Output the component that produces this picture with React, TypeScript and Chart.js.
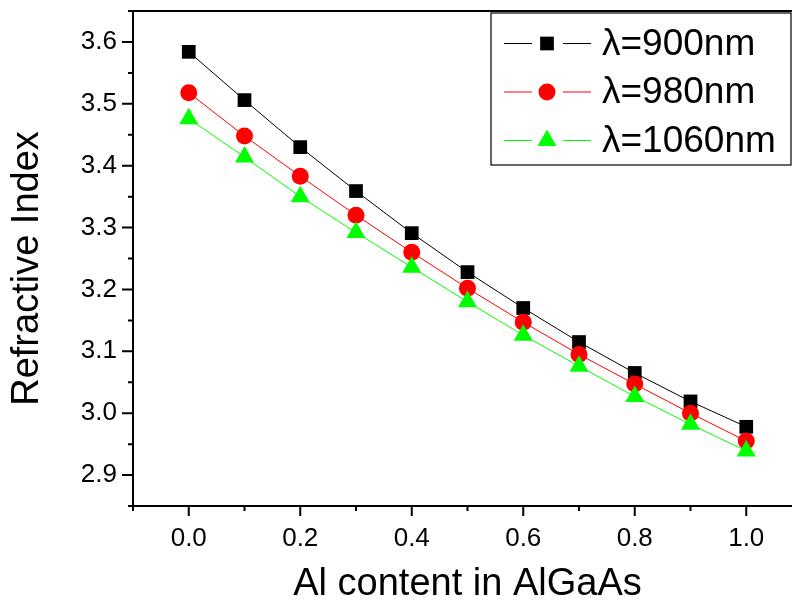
import React, { useEffect, useRef } from 'react';
import { Chart, registerables } from 'chart.js';

Chart.register(...registerables);

const alContent = [0.0, 0.1, 0.2, 0.3, 0.4, 0.5, 0.6, 0.7, 0.8, 0.9, 1.0];
const n900 = [3.584, 3.506, 3.430, 3.359, 3.291, 3.228, 3.170, 3.115, 3.065, 3.019, 2.978];
const n980 = [3.518, 3.448, 3.383, 3.320, 3.260, 3.202, 3.147, 3.095, 3.047, 3.000, 2.955];
const n1060 = [3.476, 3.414, 3.350, 3.292, 3.236, 3.180, 3.126, 3.076, 3.027, 2.982, 2.939];
const seriesLabels = ['λ=900nm', 'λ=980nm', 'λ=1060nm'];
const yTitle = 'Refractive Index';
const xTitle = 'Al content in AlGaAs';

const xMajorTicks = [0.0, 0.2, 0.4, 0.6, 0.8, 1.0];
const xMinorTicks = [-0.1, 0.1, 0.3, 0.5, 0.7, 0.9, 1.1];
const yMajorTicks = [2.9, 3.0, 3.1, 3.2, 3.3, 3.4, 3.5, 3.6];
const yMinorTicks = [2.85, 2.95, 3.05, 3.15, 3.25, 3.35, 3.45, 3.55, 3.65];

const FONT = "'Liberation Sans', Arial, Helvetica, sans-serif";

function drawMarker(ctx: CanvasRenderingContext2D, style: string, x: number, y: number, r: number, color: string) {
  ctx.save();
  ctx.fillStyle = color;
  ctx.beginPath();
  if (style === 'rect') {
    const s = r * Math.SQRT1_2;
    ctx.rect(x - s, y - s, 2 * s, 2 * s);
  } else if (style === 'circle') {
    ctx.arc(x, y, r, 0, Math.PI * 2);
  } else {
    const a = (2 * Math.PI) / 3;
    ctx.moveTo(x, y - r);
    ctx.lineTo(x + Math.sin(a) * r, y - Math.cos(a) * r);
    ctx.lineTo(x + Math.sin(2 * a) * r, y - Math.cos(2 * a) * r);
    ctx.closePath();
  }
  ctx.fill();
  ctx.restore();
}

const framePlugin = {
  id: 'frameTicks',
  afterDraw(chart: any) {
    const { ctx, chartArea } = chart;
    const xs = chart.scales.x;
    const ys = chart.scales.y;
    ctx.save();
    ctx.strokeStyle = '#000';
    ctx.lineWidth = 2;
    ctx.strokeRect(chartArea.left, chartArea.top, chartArea.right - chartArea.left, chartArea.bottom - chartArea.top);
    ctx.beginPath();
    xMajorTicks.forEach((v) => {
      const p = xs.getPixelForValue(v);
      ctx.moveTo(p, chartArea.bottom);
      ctx.lineTo(p, chartArea.bottom + 10);
    });
    xMinorTicks.forEach((v) => {
      const p = xs.getPixelForValue(v);
      ctx.moveTo(p, chartArea.bottom);
      ctx.lineTo(p, chartArea.bottom + 5);
    });
    yMajorTicks.forEach((v) => {
      const p = ys.getPixelForValue(v);
      ctx.moveTo(chartArea.left, p);
      ctx.lineTo(chartArea.left - 11, p);
    });
    yMinorTicks.forEach((v) => {
      const p = ys.getPixelForValue(v);
      ctx.moveTo(chartArea.left, p);
      ctx.lineTo(chartArea.left - 5, p);
    });
    ctx.stroke();

    // y-axis title (slightly below the plot centre, as in the original)
    ctx.fillStyle = '#000';
    ctx.font = `38px ${FONT}`;
    ctx.textAlign = 'center';
    ctx.textBaseline = 'middle';
    ctx.translate(28, (chartArea.top + chartArea.bottom) / 2 + 10);
    ctx.rotate(-Math.PI / 2);
    ctx.fillText(yTitle, 0, 0);
    ctx.restore();
  },
};

const legendPlugin = {
  id: 'originLegend',
  afterDraw(chart: any) {
    const { ctx } = chart;
    ctx.save();
    ctx.fillStyle = '#fff';
    ctx.fillRect(491, 13, 300, 152);
    ctx.strokeStyle = '#000';
    ctx.lineWidth = 1.2;
    ctx.strokeRect(491, 13, 300, 152);
    const rows = [43.5, 92, 140.5];
    chart.data.datasets.forEach((ds: any, i: number) => {
      const y = rows[i];
      ctx.strokeStyle = ds.borderColor;
      ctx.lineWidth = 1;
      ctx.beginPath();
      ctx.moveTo(504, y);
      ctx.lineTo(532, y);
      ctx.moveTo(563, y);
      ctx.lineTo(591, y);
      ctx.stroke();
      drawMarker(ctx, ds.pointStyle, 547, y, ds.pointRadius, ds.pointBackgroundColor);
      ctx.fillStyle = '#000';
      ctx.font = `37px ${FONT}`;
      ctx.textAlign = 'left';
      ctx.textBaseline = 'middle';
      ctx.fillText(ds.label, 602, y + 1);
    });
    ctx.restore();
  },
};

export default function App() {
  const ref = useRef<HTMLCanvasElement | null>(null);
  useEffect(() => {
    if (!ref.current) return;
    const mk = (v: number[]) => alContent.map((x, i) => ({ x, y: v[i] }));
    const chart = new Chart(ref.current, {
      type: 'line',
      data: {
        datasets: [
          {
            label: seriesLabels[0],
            data: mk(n900),
            borderColor: '#000000',
            backgroundColor: '#000000',
            pointBackgroundColor: '#000000',
            pointStyle: 'rect',
            pointRadius: 9.7,
            pointBorderWidth: 0,
            borderWidth: 1,
            order: 2,
          },
          {
            label: seriesLabels[1],
            data: mk(n980),
            borderColor: '#ff0000',
            backgroundColor: '#ff0000',
            pointBackgroundColor: '#ff0000',
            pointStyle: 'circle',
            pointRadius: 8.5,
            pointBorderWidth: 0,
            borderWidth: 1,
            order: 1,
          },
          {
            label: seriesLabels[2],
            data: mk(n1060),
            borderColor: '#00ff00',
            backgroundColor: '#00ff00',
            pointBackgroundColor: '#00ff00',
            pointStyle: 'triangle',
            pointRadius: 11,
            pointBorderWidth: 0,
            borderWidth: 1,
            order: 0,
          },
        ] as any,
      },
      options: {
        animation: false,
        responsive: false,
        devicePixelRatio: 1,
        layout: { padding: { left: 0, right: 18, top: 8, bottom: 0 } },
        plugins: { legend: { display: false }, tooltip: { enabled: false } },
        scales: {
          x: {
            type: 'linear',
            min: -0.1,
            max: 1.1,
            afterBuildTicks: (s: any) => {
              s.ticks = xMajorTicks.map((value) => ({ value }));
            },
            afterFit: (s: any) => {
              s.height = 94;
              s.paddingLeft = 0;
              s.paddingRight = 0;
              s.paddingTop = 0;
              s.paddingBottom = 0;
            },
            grid: { display: true, color: 'transparent', drawOnChartArea: false, drawTicks: true, tickLength: 10 },
            border: { display: false },
            ticks: {
              color: '#000',
              padding: 7,
              font: { family: FONT, size: 26 },
              maxRotation: 0,
              callback: (v: any) => Number(v).toFixed(1),
            },
            title: {
              display: true,
              text: xTitle,
              color: '#000',
              font: { family: FONT, size: 38, lineHeight: 0.84 },
              padding: { top: 0, bottom: 0 },
            },
          },
          y: {
            type: 'linear',
            min: 2.85,
            max: 3.65,
            afterBuildTicks: (s: any) => {
              s.ticks = yMajorTicks.map((value) => ({ value }));
            },
            afterFit: (s: any) => {
              s.width = 133;
              s.paddingLeft = 0;
              s.paddingRight = 0;
              s.paddingTop = 0;
              s.paddingBottom = 0;
            },
            grid: { display: true, color: 'transparent', drawOnChartArea: false, drawTicks: true, tickLength: 10 },
            border: { display: false },
            ticks: {
              color: '#000',
              padding: 6,
              font: { family: FONT, size: 26 },
              callback: (v: any) => Number(v).toFixed(1),
            },
            title: { display: false },
          },
        },
      } as any,
      plugins: [framePlugin, legendPlugin],
    });
    return () => chart.destroy();
  }, []);

  return (
    <div style={{ position: 'fixed', left: 0, top: 0, width: 792, height: 600, overflow: 'hidden', background: '#fff' }}>
      <canvas ref={ref} width={820} height={600} style={{ display: 'block', width: 820, height: 600 }} />
    </div>
  );
}
